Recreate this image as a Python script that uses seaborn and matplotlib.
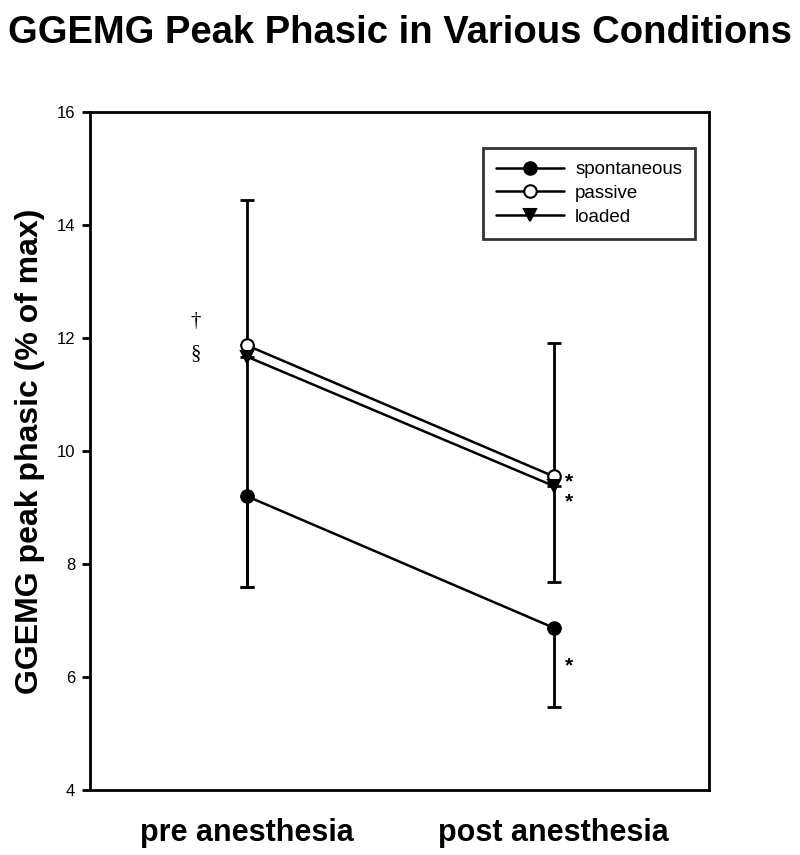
import matplotlib
matplotlib.use('Agg')
import matplotlib.pyplot as plt
import seaborn as sns
import numpy as np

conditions = ["pre anesthesia", "post anesthesia"]
series = ["spontaneous", "passive", "loaded"]
spontaneous = [9.2, 6.87]
passive = [11.87, 9.55]
loaded = [11.67, 9.38]
# one-sided error bars (lower, upper)
spont_err = ([1.61, 1.40], [0.0, 0.0])
passive_err = ([0.0, 0.0], [2.57, 2.37])
loaded_err = ([4.07, 1.70], [0.0, 0.0])

sns.set_theme(style='white')
plt.rcParams['font.family'] = ['Liberation Sans', 'DejaVu Sans']
plt.rcParams['text.color'] = 'black'
plt.rcParams['axes.labelcolor'] = 'black'
plt.rcParams['xtick.color'] = 'black'
plt.rcParams['ytick.color'] = 'black'

fig = plt.figure(figsize=(8, 8.55), dpi=100)
ax = fig.add_axes([0.113, 0.076, 0.773, 0.793])

x = np.arange(len(conditions))
styles = {
    "spontaneous": (spontaneous, spont_err, 'o', 'black'),
    "passive": (passive, passive_err, 'o', 'white'),
    "loaded": (loaded, loaded_err, 'v', 'black'),
}
for name in series:
    vals, err, mk, fc = styles[name]
    ax.errorbar(x, vals, yerr=np.array(err), fmt='none', ecolor='black',
                elinewidth=2, capsize=5, capthick=2, zorder=2)
for name in series:
    vals, err, mk, fc = styles[name]
    sns.lineplot(x=x, y=vals, ax=ax, color='black', lw=1.8, marker=mk,
                 markersize=9, mfc=fc, mec='black', mew=1.5, label=name, zorder=3)

ax.set_xlim(-0.51, 1.505)
ax.set_ylim(4, 16)
ax.set_yticks([4, 6, 8, 10, 12, 14, 16])
ax.set_xticks(x)
ax.set_xticklabels(conditions, fontsize=22, fontweight='bold')
ax.tick_params(axis='x', length=0, pad=20)
ax.tick_params(axis='y', direction='out', length=6, width=2, color='black',
               left=True, labelsize=12, pad=5)
for s in ax.spines.values():
    s.set_color('black')
    s.set_linewidth(2)

ax.set_ylabel("GGEMG peak phasic (% of max)", fontsize=23, fontweight='bold', labelpad=8)
ax.set_xlabel("")
fig.suptitle("GGEMG Peak Phasic in Various Conditions", x=0.5, y=0.982,
             fontsize=27.5, fontweight='bold')

ax.text(-0.166, 12.3, "\u2020", fontsize=15, ha='center', va='center', family='Liberation Serif')
ax.text(-0.166, 11.72, "\u00a7", fontsize=15, ha='center', va='center', family='Liberation Serif')
for yy in [9.46, 9.1, 6.2]:
    ax.text(1.05, yy, "*", fontsize=15, ha='center', va='center', fontweight='bold')

leg = ax.legend(loc='upper right', bbox_to_anchor=(0.978, 0.947), frameon=True,
                fancybox=False, fontsize=13.5, handlelength=3.6, borderpad=0.7,
                labelspacing=0.35, handletextpad=0.6, borderaxespad=0)
leg.get_frame().set_edgecolor('black')
leg.get_frame().set_linewidth(2)

fig.savefig('out.png', dpi=100)
